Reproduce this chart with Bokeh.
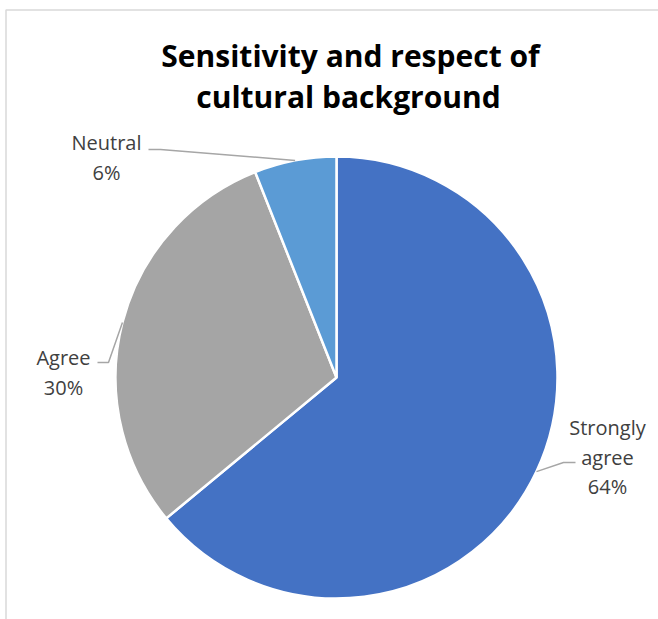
import math
from bokeh.plotting import figure
from bokeh.models import Range1d
from bokeh.core.properties import value
from bokeh.embed import file_html
from bokeh.resources import INLINE

# Data
categories = ["Strongly agree", "Agree", "Neutral"]
shares = [64, 30, 6]
colors = ["#4472C4", "#A5A5A5", "#5B9BD5"]
label_lines = [["Strongly", "agree", "64%"], ["Agree", "30%"], ["Neutral", "6%"]]
title_lines = ["Sensitivity and respect of", "cultural background"]

W, H = 658, 619
p = figure(width=W, height=H, output_backend="svg", toolbar_location=None,
           x_range=Range1d(0, W), y_range=Range1d(0, H), min_border=0,
           background_fill_color="white", border_fill_color="white")
p.axis.visible = False
p.grid.visible = False
p.outline_line_color = None

def Y(y):
    return H - y

# chart border
p.quad(left=[5.5], right=[W + 20], top=[Y(9.5)], bottom=[-20],
       fill_color=None, line_color="#D9D9D9", line_width=1.5)

# pie
cx, cy, r = 336, Y(377), 221
total = sum(shares)
starts, ends, mids = [], [], []
acc = 0
for s in shares:
    a0 = math.pi / 2 - acc / total * 2 * math.pi
    acc += s
    a1 = math.pi / 2 - acc / total * 2 * math.pi
    starts.append(a0)
    ends.append(a1)
    mids.append((a0 + a1) / 2)

p.wedge(x=cx, y=cy, radius=r, start_angle=starts, end_angle=ends,
        direction="clock", fill_color=colors, line_color="white", line_width=2.5)

# title
p.text(x=[350, 348], y=[Y(55), Y(96)], text=title_lines,
       text_font=value("Open Sans"), text_font_style="bold", text_font_size="30px",
       text_color="black", text_align="center", text_baseline="middle")

# label layout: (center x, first line y, start of leader, elbow of leader)
layout = [
    (607, 427, (575, 462), (563, 462)),
    (63, 357, (97, 362), (108, 362)),
    (106, 142, (148, 149), (160, 149)),
]
line_h = 29.5
xs_t, ys_t, tt = [], [], []
lxs, lys = [], []
for lines, (lx, ly, st, el), m in zip(label_lines, layout, mids):
    for i, t in enumerate(lines):
        xs_t.append(lx)
        ys_t.append(Y(ly + i * line_h))
        tt.append(t)
    ex = cx + r * math.cos(m)
    ey = cy + r * math.sin(m)
    lxs.append([st[0], el[0], ex])
    lys.append([Y(st[1]), Y(el[1]), ey])

p.multi_line(xs=lxs, ys=lys, line_color="#A6A6A6", line_width=1.5)
p.text(x=xs_t, y=ys_t, text=tt, text_font=value("Open Sans"), text_font_size="20px",
       text_color="#404040", text_align="center", text_baseline="middle")

open("out.html", "w").write(file_html(p, INLINE))
